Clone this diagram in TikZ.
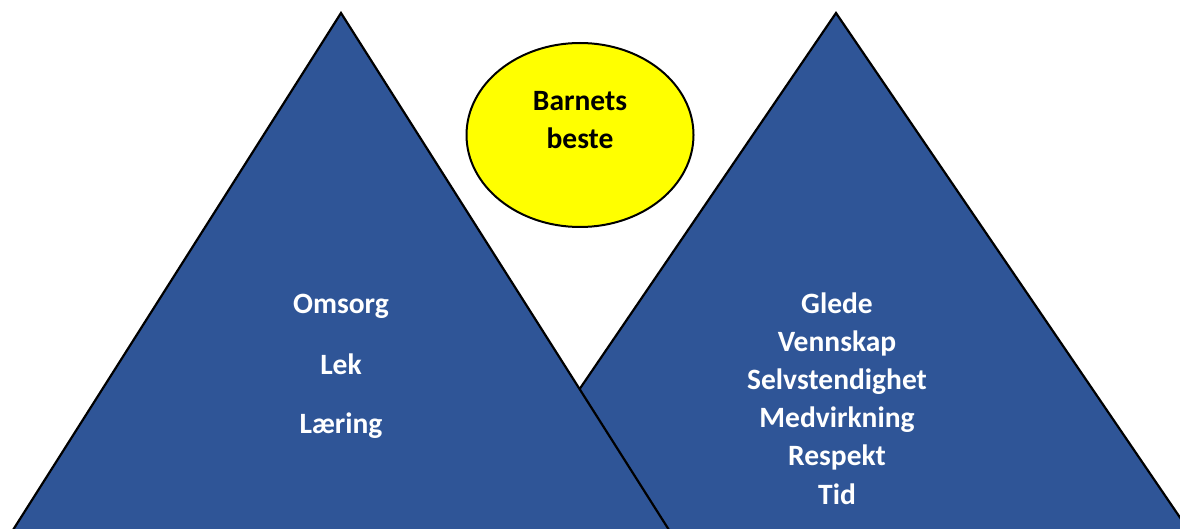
\documentclass[tikz,border=0pt]{standalone}
\usepackage{fontspec}
\setmainfont{Carlito}
\usetikzlibrary{shapes.geometric}
\definecolor{mtblue}{HTML}{2F5597}
\definecolor{sunyellow}{HTML}{FFFF00}
\tikzset{
  mountain/.style={fill=mtblue, draw=black, line width=2.2pt, line join=miter},
  sun/.style={ellipse, fill=sunyellow, draw=black, line width=2pt, minimum width=227pt, minimum height=184pt, inner sep=0pt},
  wlabel/.style={anchor=base, text=white, font=\bfseries\fontsize{29.5}{34}\selectfont, inner sep=0pt},
  blabel/.style={anchor=base, text=black, font=\bfseries\fontsize{29.5}{34}\selectfont, inner sep=0pt}
}
\begin{document}
\begin{tikzpicture}[x=1pt,y=-1pt]
\useasboundingbox (0,0) rectangle (1180,529);
\begin{scope}
\clip (0,0) rectangle (1180,529);
% right mountain (behind)
\draw[mountain] (836,13) -- (1196,541) -- (476,541) -- cycle;
% left mountain (front)
\draw[mountain] (341,13) -- (676,541) -- (6,541) -- cycle;
\end{scope}
\node[sun] (sun) at (580,135) {};
\node[blabel] (b1) at (580,111) {Barnets};
\node[blabel] (b2) at (580,149) {beste};
\node[wlabel] (l1) at (341,313) {Omsorg};
\node[wlabel] (l2) at (341,374) {Lek};
\node[wlabel] (l3) at (341,433) {Læring};
\node[wlabel] (r1) at (837,313) {Glede};
\node[wlabel] (r2) at (837,351.2) {Vennskap};
\node[wlabel] (r3) at (837,389.4) {Selvstendighet};
\node[wlabel] (r4) at (837,427.6) {Medvirkning};
\node[wlabel] (r5) at (837,465.8) {Respekt};
\node[wlabel] (r6) at (837,504) {Tid};
\end{tikzpicture}
\end{document}
